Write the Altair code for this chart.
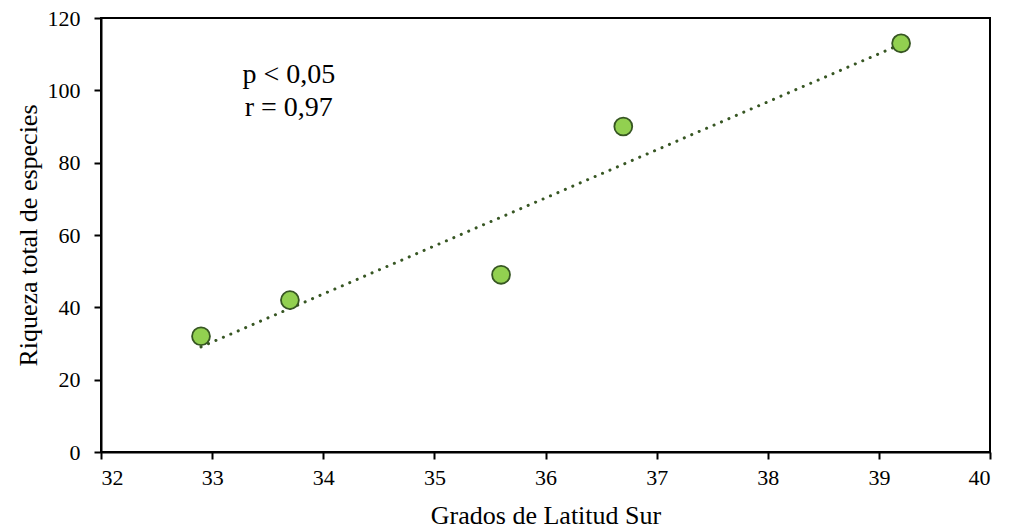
import altair as alt
import pandas as pd

latitude = [32.9, 33.7, 35.6, 36.7, 39.2]
richness = [32, 42, 49, 90, 113]
x_ticks = [32, 33, 34, 35, 36, 37, 38, 39, 40]
y_ticks = [0, 20, 40, 60, 80, 100, 120]
note_text = ["p < 0,05", "r = 0,97"]
note_x = [33.69, 33.69]
note_y = [104.2, 95.1]

df = pd.DataFrame({"lat": latitude, "rich": richness})
notes = pd.DataFrame({"t": note_text, "x": note_x, "y": note_y})

FONT = "Liberation Serif"
DARK = "#375623"

xs = alt.Scale(domain=[32, 40], nice=False, zero=False)
ys = alt.Scale(domain=[0, 120], nice=False)

xax = alt.Axis(values=x_ticks, title="Grados de Latitud Sur", format="d",
               labelPadding=8, titlePadding=14)
yax = alt.Axis(values=y_ticks, title="Riqueza total de especies", format="d",
               labelPadding=14, titlePadding=6)

base = alt.Chart(df)

trend = base.transform_regression("lat", "rich").mark_line(
    color=DARK, strokeWidth=3, strokeDash=[0.1, 8], strokeCap="round"
).encode(x=alt.X("lat:Q", scale=xs, axis=xax), y=alt.Y("rich:Q", scale=ys, axis=yax))

pts = base.mark_point(filled=True, shape="circle", size=320, fill="#92D050",
                      stroke=DARK, strokeWidth=1.8, opacity=1).encode(
    x=alt.X("lat:Q", scale=xs, axis=xax), y=alt.Y("rich:Q", scale=ys, axis=yax))

txt = alt.Chart(notes).mark_text(font=FONT, fontSize=28, color="black",
                                 align="center", baseline="middle").encode(
    x=alt.X("x:Q", scale=xs, axis=xax), y=alt.Y("y:Q", scale=ys, axis=yax), text="t:N")

chart = alt.layer(trend, pts, txt).properties(
    width=889, height=434,
    autosize="none",
    background="white",
    padding={"left": 101, "top": 18, "right": 21, "bottom": 79},
).configure_view(stroke="black", strokeWidth=2).configure_axis(
    grid=False, domainColor="black", domainWidth=2, tickColor="black", tickWidth=2,
    tickSize=7, labelFont=FONT, labelFontSize=22, labelColor="black",
    titleFont=FONT, titleFontSize=26, titleFontWeight="normal", titleColor="black"
)

chart.save("out.html", embed_options={"renderer": "svg", "actions": False})
